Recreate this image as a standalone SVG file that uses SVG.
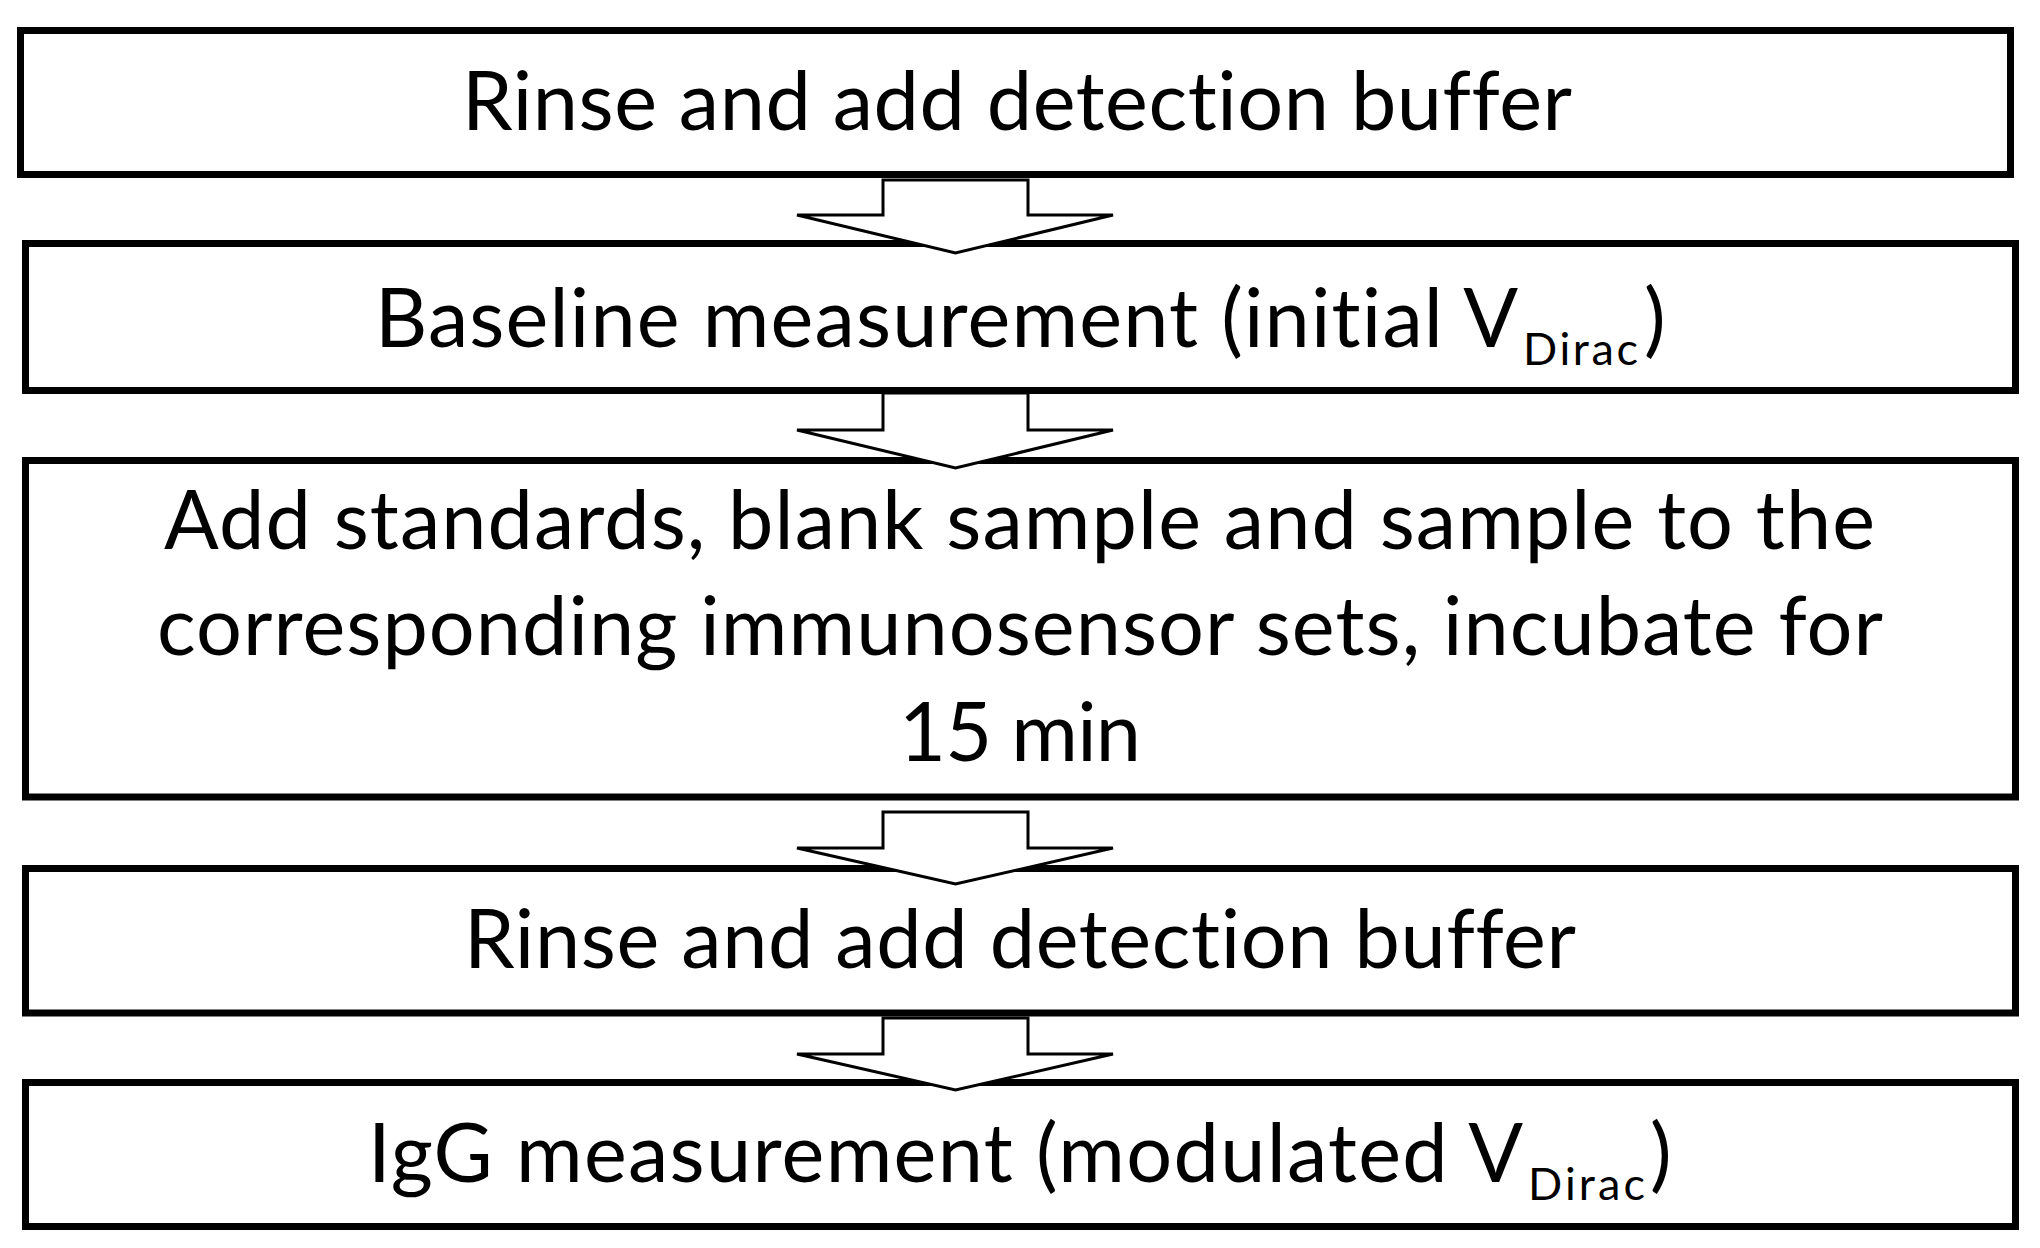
<svg xmlns="http://www.w3.org/2000/svg" width="2040" height="1248" viewBox="0 0 2040 1248">
<style>
.box{fill:#fff;stroke:#000;stroke-width:7}
.arr{fill:#fff;stroke:#000;stroke-width:3;stroke-linejoin:miter}
.t{font-family:Lato,"Open Sans","Liberation Sans",sans-serif;font-size:81px;fill:#000;font-variant-ligatures:none}
.s{font-family:Lato,"Open Sans","Liberation Sans",sans-serif;font-size:45px;fill:#000;font-variant-ligatures:none}
</style>
<rect width="2040" height="1248" fill="#fff"/>
<g id="node1">
<rect class="box" x="20.5" y="30.5" width="1990" height="144"/>
<text class="t" x="462" y="130" textLength="1110" lengthAdjust="spacing">Rinse and add detection buffer</text>
</g>
<g id="node2">
<rect class="box" x="25.5" y="243.5" width="1990" height="147"/>
<text class="t" x="375" y="347" textLength="1143" lengthAdjust="spacing">Baseline measurement (initial V</text>
<text class="s" x="1523" y="365" textLength="115" lengthAdjust="spacing">Dirac</text>
<text class="t" x="1644" y="347">)</text>
</g>
<g id="node3">
<rect class="box" x="25.5" y="460.5" width="1990" height="336.5"/>
<text class="t" x="164" y="549" textLength="1711" lengthAdjust="spacing">Add standards, blank sample and sample to the</text>
<text class="t" x="157" y="655" textLength="1726" lengthAdjust="spacing">corresponding immunosensor sets, incubate for</text>
<text class="t" x="899" y="761" textLength="242" lengthAdjust="spacing">15 min</text>
</g>
<g id="node4">
<rect class="box" x="25.5" y="868.5" width="1990" height="144.5"/>
<text class="t" x="464" y="968" textLength="1112" lengthAdjust="spacing">Rinse and add detection buffer</text>
</g>
<g id="node5">
<rect class="box" x="25.5" y="1082.5" width="1990" height="144"/>
<text class="t" x="368" y="1182" textLength="1155" lengthAdjust="spacing">IgG measurement (modulated V</text>
<text class="s" x="1528" y="1200" textLength="117" lengthAdjust="spacing">Dirac</text>
<text class="t" x="1650" y="1182">)</text>
</g>
<g id="connectors">
<path class="arr" d="M883,180 L1028,180 L1028,215 L1113,215 L955.5,253 L797,215 L883,215 Z"/>
<path class="arr" d="M883,393 L1028,393 L1028,430 L1113,430 L955.5,468 L797,430 L883,430 Z"/>
<path class="arr" d="M883,812 L1028,812 L1028,848 L1113,848 L955.5,884 L797,848 L883,848 Z"/>
<path class="arr" d="M883,1018 L1028,1018 L1028,1054 L1113,1054 L955.5,1090 L797,1054 L883,1054 Z"/>
</g>
</svg>
